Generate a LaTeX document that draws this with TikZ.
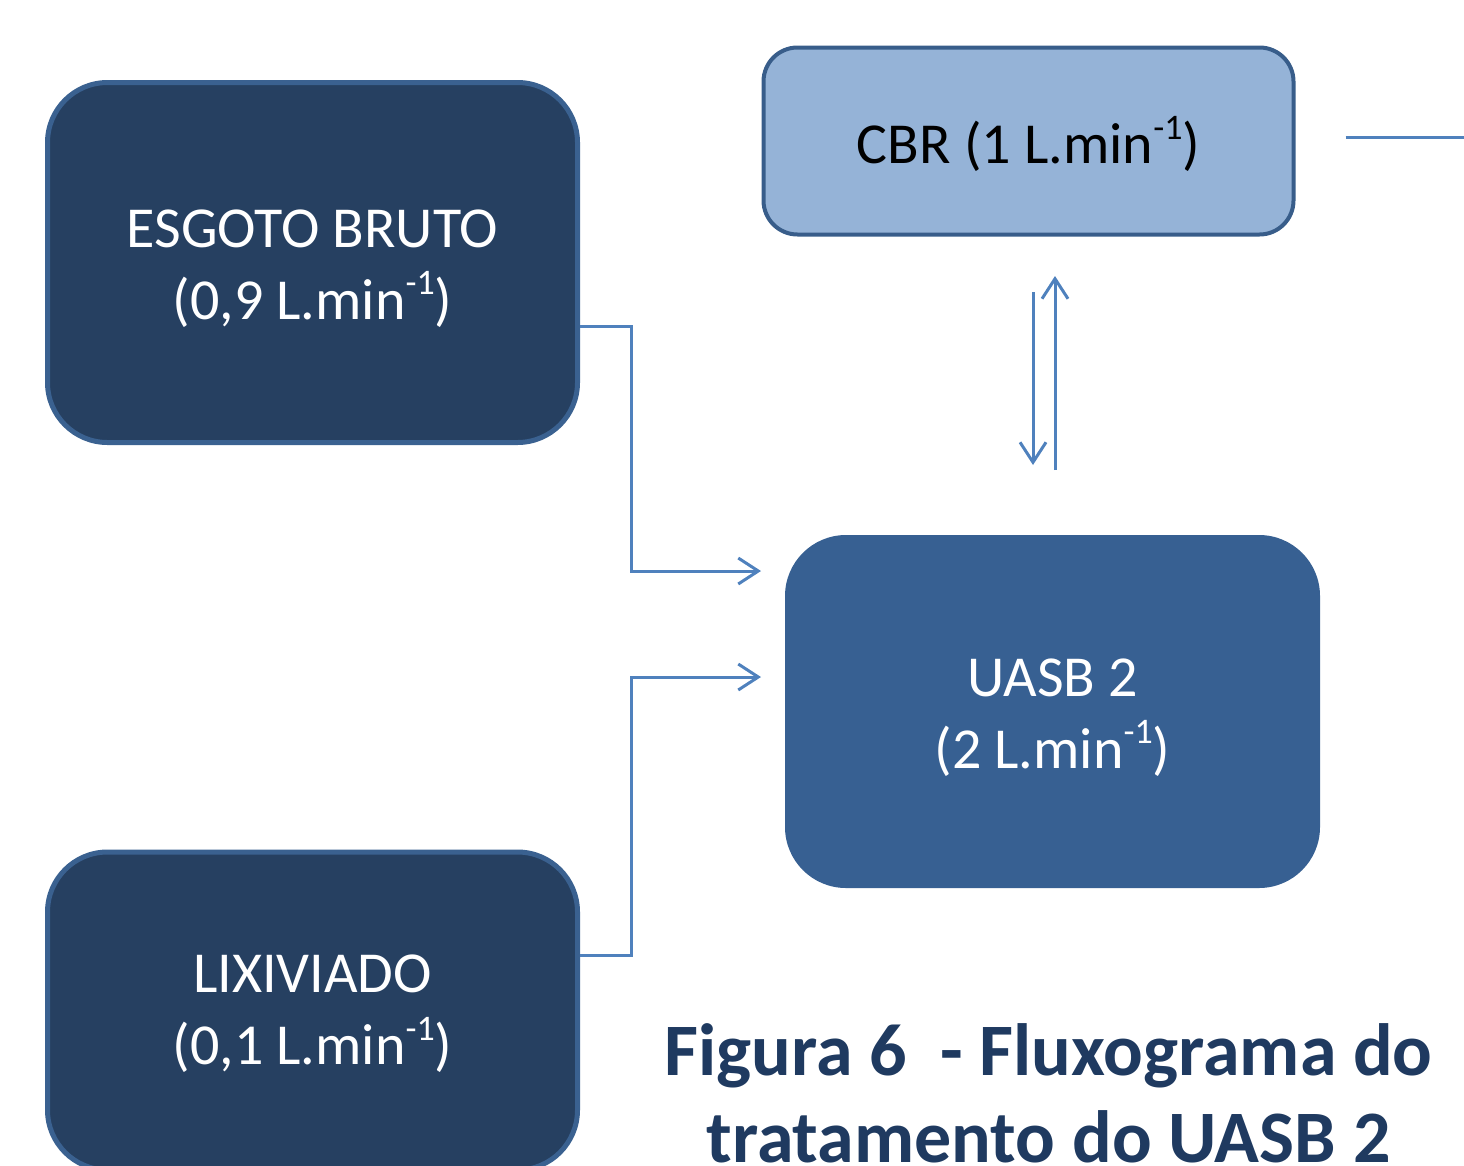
\documentclass[tikz,border=0pt]{standalone}
\usepackage{fontspec}
\setmainfont{Carlito}
\usetikzlibrary{arrows.meta,calc}
\definecolor{dkfill}{HTML}{264061}
\definecolor{bord}{HTML}{3A6190}
\definecolor{uasbfill}{HTML}{376092}
\definecolor{cbrfill}{HTML}{95B3D7}
\definecolor{cbrbord}{HTML}{385D8A}
\definecolor{arrcol}{HTML}{4F81BD}
\definecolor{capcol}{HTML}{1F3A60}
\tikzset{
  bigbox/.style={draw=bord, fill=dkfill, line width=5pt, rounded corners=60pt,
    inner sep=0pt, minimum width=530pt},
  boxtext/.style={text=white, align=center, inner sep=0pt,
    font=\fontsize{58}{72}\selectfont},
  flow/.style={draw=arrcol, line width=3pt, -{Straight Barb[length=20pt,width=26pt,line width=3pt]}},
  plainflow/.style={draw=arrcol, line width=3pt},
  captext/.style={font=\fontsize{74}{88}\selectfont\bfseries, text=capcol, anchor=base, inner sep=0pt}
}
\newcommand{\lmin}{L.min\raisebox{0.42em}{\scalebox{0.62}{-1}}}
\begin{document}
\begin{tikzpicture}[x=1pt,y=-1pt]
\useasboundingbox (0,0) rectangle (1464,1165);
\clip (0,0) rectangle (1464,1165);
\node[bigbox, minimum height=360pt] (esg) at (312.5,262.5) {};
\node[boxtext] (esgt) at ($(esg.center)+(0,6)$) {ESGOTO BRUTO\\(0,9 \lmin)};
\node[bigbox, minimum height=318pt] (lix) at (312.5,1011) {};
\node[boxtext] (lixt) at ($(lix.center)+(0,3)$) {LIXIVIADO\\(0,1 \lmin)};
\node[bigbox, draw=cbrbord, fill=cbrfill, line width=4pt, rounded corners=34pt,
      minimum height=187pt] (cbr) at (1028.5,141) {};
\node[boxtext, text=black] (cbrt) at ($(cbr.center)+(0,3)$) {CBR (1 \lmin)};
\node[bigbox, draw=uasbfill, fill=uasbfill, line width=2pt, minimum width=533pt,
      minimum height=351pt] (uasb) at (1052.5,711.5) {};
\node[boxtext] (uasbt) at ($(uasb.center)+(0,6)$) {UASB 2\\(2 \lmin)};
\node[captext] (cap1) at (1048.5,1075) {Figura 6~ - Fluxograma do};
\node[captext] (cap2) at (1048.5,1162) {tratamento do UASB 2};
\coordinate (in1) at (761,571);
\coordinate (in2) at (761,677);
\coordinate (dnTop) at (1033,292);
\coordinate (dnBot) at (1033,465);
\coordinate (upBot) at (1055,470);
\coordinate (upTop) at (1055,276);
\coordinate (outEnd) at (1466,137);
\draw[flow] (esg.east |- 0,326) -- (631,326) |- (in1);
\draw[flow] (lix.east |- 0,955) -- (631,955) |- (in2);
\draw[flow] (dnTop) -- (dnBot);
\draw[flow] (upBot) -- (upTop);
\draw[plainflow] ($(cbr.east)+(50,-4)$) -- (outEnd);
\end{tikzpicture}
\end{document}
